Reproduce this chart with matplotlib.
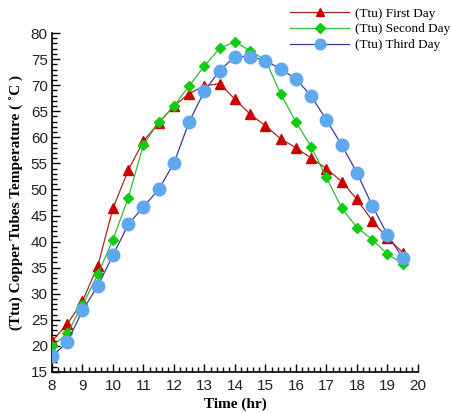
"""Copper tube temperature over three days."""

import matplotlib

matplotlib.use("Agg")
import matplotlib.pyplot as plt
from matplotlib.ticker import MultipleLocator

hours = [8, 8.5, 9, 9.5, 10, 10.5, 11, 11.5, 12, 12.5, 13, 13.5,
         14, 14.5, 15, 15.5, 16, 16.5, 17, 17.5, 18, 18.5, 19, 19.5]

first_day = [20.9, 24.2, 28.6, 35.3, 46.4, 53.7, 59.3, 62.8, 66.0, 68.4, 69.9, 70.3,
             67.3, 64.4, 62.2, 59.7, 58.0, 56.0, 54.0, 51.5, 48.1, 44.0, 40.7, 37.9]
second_day = [19.9, 22.4, 27.8, 33.7, 40.4, 48.4, 58.6, 62.9, 66.0, 69.9, 73.7, 77.1,
              78.3, 76.6, 74.8, 68.3, 62.9, 58.2, 52.3, 46.4, 42.7, 40.4, 37.6, 35.8]
third_day = [18.0, 20.7, 26.8, 31.5, 37.4, 43.3, 46.7, 50.0, 55.1, 63.0, 68.9, 72.8,
             75.5, 75.5, 74.7, 73.1, 71.2, 67.9, 63.3, 58.5, 53.2, 46.9, 41.3, 36.9]

labels = ["(Ttu) First Day", "(Ttu) Second Day", "(Ttu) Third Day"]

fig = plt.figure(figsize=(4.51, 4.13), dpi=100)
ax = fig.add_axes([0.1153, 0.0993, 0.8115, 0.8207])

ax.plot(hours, first_day, color="#b22222", lw=0.9, marker="^", ms=6.5,
        mfc="#cc0000", mec="#cc0000", label=labels[0], zorder=3)
ax.plot(hours, second_day, color="#33bb33", lw=0.9, marker="D", ms=5.5,
        mfc="#11cc11", mec="#11cc11", label=labels[1], zorder=4)
ax.plot(hours, third_day, color="#3b3b9e", lw=0.9, marker="o", ms=9,
        mfc="#5fa8ee", mec="#5fa8ee", label=labels[2], zorder=5)

ax.set_xlim(8, 20)
ax.set_ylim(15, 80)
ax.xaxis.set_major_locator(MultipleLocator(1))
ax.xaxis.set_minor_locator(MultipleLocator(0.2))
ax.yaxis.set_major_locator(MultipleLocator(5))
ax.yaxis.set_minor_locator(MultipleLocator(1))
ax.tick_params(which="both", direction="in", width=1.0, labelsize=11, pad=3)
ax.tick_params(axis="x", which="both", pad=5)
ax.tick_params(which="major", length=6)
ax.tick_params(which="minor", length=3.5)
for lab in ax.get_xticklabels() + ax.get_yticklabels():
    lab.set_family("Liberation Sans")
    lab.set_color("#222222")

for side in ("top", "right"):
    ax.spines[side].set_visible(False)
for side in ("left", "bottom"):
    ax.spines[side].set_linewidth(1.2)

ax.set_xlabel("Time (hr)", family="Liberation Serif", fontweight="bold",
              fontsize=11, labelpad=3)
ax.set_ylabel("(Ttu) Copper Tubes Temperature ( \u02daC )", family="Liberation Serif",
              fontweight="bold", fontsize=11, labelpad=5)

fig.legend(loc="upper left", bbox_to_anchor=(0.643, 0.982), frameon=False,
           prop={"family": "Liberation Serif", "size": 9.5}, borderpad=0,
           borderaxespad=0, handlelength=4.5, labelspacing=0.27, handletextpad=0.4,
           markerscale=0.85)

fig.savefig("out.png", dpi=100)
